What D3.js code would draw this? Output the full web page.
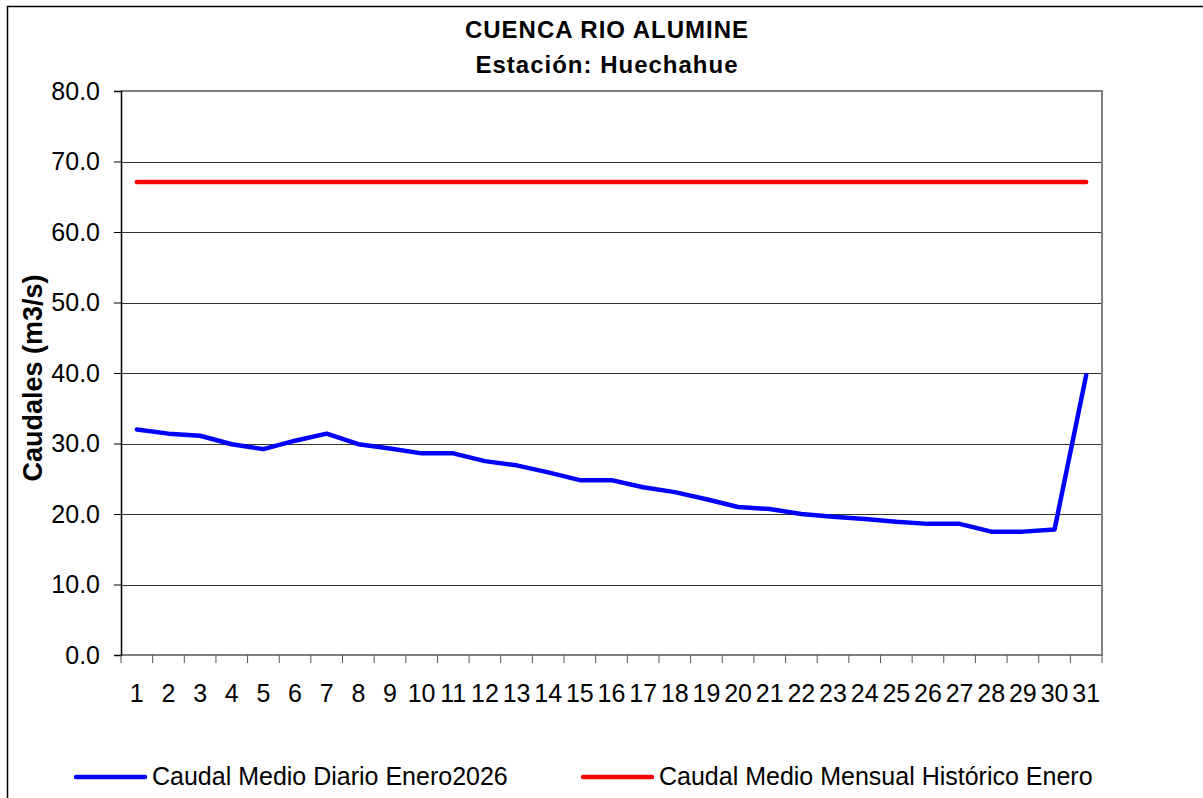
<!DOCTYPE html>
<html><head><meta charset="utf-8">
<script src="https://cdn.jsdelivr.net/npm/d3@7/dist/d3.min.js"></script>
<style>body{margin:0;background:#fff}svg{display:block}text{font-family:Arial,"Liberation Sans",sans-serif}</style>
</head><body><svg id="c" width="1203" height="798"></svg>
<script>
const days = d3.range(1, 32).map(String);
const dailyFlow = [32.0,31.4,31.1,29.9,29.2,30.4,31.4,29.9,29.3,28.6,28.6,27.5,26.9,25.9,24.8,24.8,23.8,23.1,22.1,21.0,20.7,20.0,19.6,19.3,18.9,18.6,18.6,17.5,17.5,17.8,39.7];
const historicMean = days.map(() => 67.1);
const yTicks = [0,10,20,30,40,50,60,70,80];
const titleLines = ["CUENCA RIO ALUMINE", "Estación: Huechahue"];
const yLabel = "Caudales (m3/s)";
const seriesNames = ["Caudal Medio Diario Enero2026", "Caudal Medio Mensual Histórico Enero"];

const svg = d3.select("#c");
const L = 121, R = 1102, T = 91, B = 655;
const x = d3.scalePoint().domain(days).range([L, R]).padding(0.5);
const y = d3.scaleLinear().domain([0, 80]).range([B, T]);

// outer border
svg.append("rect").attr("x", 7.5).attr("y", 6.5).attr("width", 1210).attr("height", 820)
  .attr("fill", "none").attr("stroke", "#000").attr("stroke-width", 1.5);

// title
svg.selectAll("text.title").data(titleLines).join("text")
  .attr("x", 607).attr("y", (d, i) => 38 + i * 35).attr("text-anchor", "middle")
  .attr("font-size", 24).attr("font-weight", "bold").attr("letter-spacing", 1).text(d => d);

// gridlines
svg.append("g").selectAll("line").data(yTicks.filter(t => t > 0 && t < 80)).join("line")
  .attr("x1", L).attr("x2", R).attr("y1", d => Math.round(y(d)) + 0.5).attr("y2", d => Math.round(y(d)) + 0.5)
  .attr("stroke", "#333").attr("stroke-width", 1);

// plot frame top/right/bottom
svg.append("path").attr("d", `M${L},${T}H${R}V${B}H${L}`).attr("fill", "none")
  .attr("stroke", "#808080").attr("stroke-width", 2);

// y axis
const yAxis = d3.axisLeft(y).tickValues(yTicks).tickFormat(d3.format(".1f")).tickSize(7).tickPadding(14);
const gy = svg.append("g").attr("transform", `translate(${L},0)`).call(yAxis);
gy.select(".domain").attr("stroke", "#000").attr("stroke-width", 1.5);
gy.selectAll(".tick line").attr("stroke", "#000");
gy.selectAll(".tick text").attr("font-size", 25).attr("fill", "#000").attr("font-family", "Arial, 'Liberation Sans', sans-serif");

// x axis ticks between categories
const step = x.step();
svg.append("g").selectAll("line").data(d3.range(0, 32)).join("line")
  .attr("x1", d => L + d * step).attr("x2", d => L + d * step).attr("y1", B).attr("y2", B + 8)
  .attr("stroke", "#555").attr("stroke-width", 1);
svg.append("g").selectAll("text").data(days).join("text")
  .attr("x", d => x(d)).attr("y", 702).attr("text-anchor", "middle").attr("font-size", 25).text(d => d);

// y label
svg.append("text").attr("transform", "translate(42,378) rotate(-90)").attr("text-anchor", "middle")
  .attr("font-size", 27).attr("font-weight", "bold").text(yLabel);

// lines
const line = d3.line().x((d, i) => x(days[i])).y(d => y(d));
svg.append("path").datum(historicMean).attr("d", line).attr("fill", "none")
  .attr("stroke", "#ff0000").attr("stroke-width", 4.5).attr("stroke-linecap", "round");
svg.append("path").datum(dailyFlow).attr("d", line).attr("fill", "none")
  .attr("stroke", "#0000ff").attr("stroke-width", 4.5).attr("stroke-linejoin", "round").attr("stroke-linecap", "round");

// legend
const legendX = [76, 583], colors = ["#0000ff", "#ff0000"];
const lg = svg.append("g").selectAll("g").data(seriesNames).join("g")
  .attr("transform", (d, i) => `translate(${legendX[i]},777)`);
lg.append("line").attr("x1", 0).attr("x2", 69).attr("stroke", (d, i) => colors[i]).attr("stroke-width", 4.5).attr("stroke-linecap", "round");
lg.append("text").attr("x", 76).attr("y", 8).attr("font-size", 25).text(d => d);
</script></body></html>
